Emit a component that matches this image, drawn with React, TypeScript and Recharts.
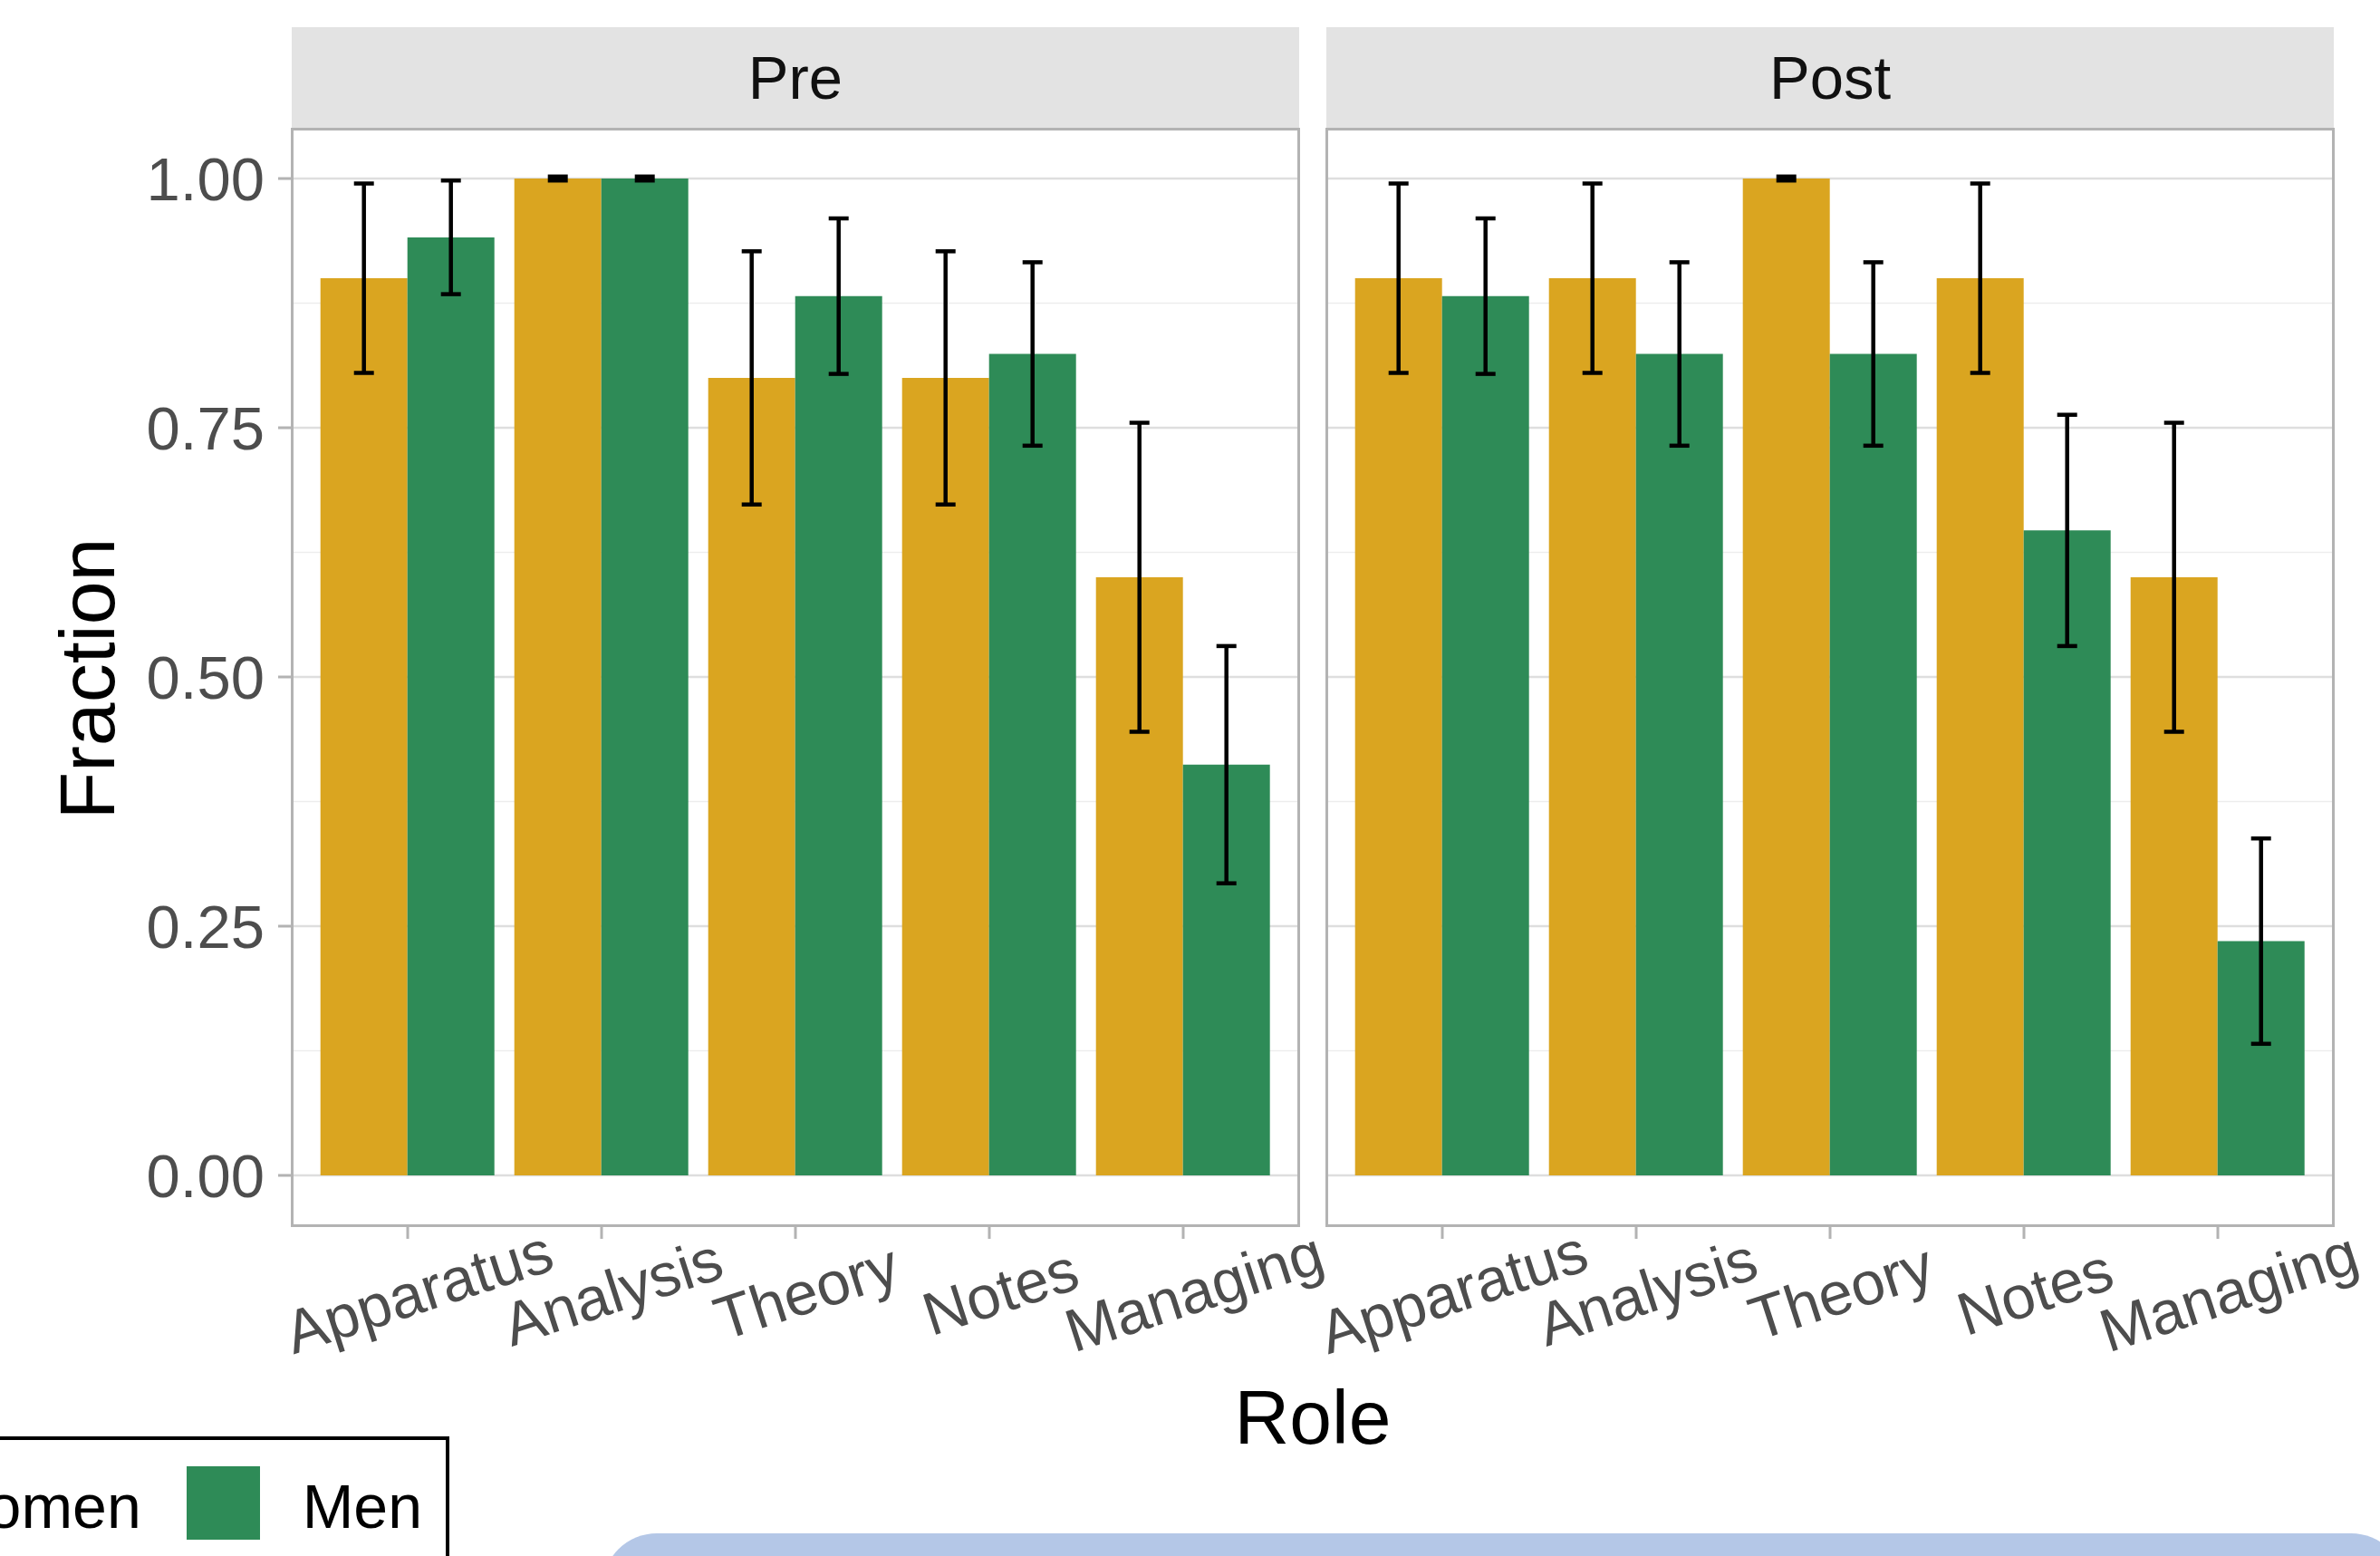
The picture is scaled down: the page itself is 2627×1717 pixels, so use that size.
import { BarChart, Bar, XAxis, YAxis, CartesianGrid, ErrorBar } from "recharts";

const roles = ["Apparatus", "Analysis", "Theory", "Notes", "Managing"];

const preWomen = [0.9, 1.0, 0.8, 0.8, 0.6];
const preWomenErr = [0.095, 0.002, 0.127, 0.127, 0.155];
const preMen = [0.941, 1.0, 0.882, 0.824, 0.412];
const preMenErr = [0.057, 0.002, 0.078, 0.092, 0.119];

const postWomen = [0.9, 0.9, 1.0, 0.9, 0.6];
const postWomenErr = [0.095, 0.095, 0.002, 0.095, 0.155];
const postMen = [0.882, 0.824, 0.824, 0.647, 0.235];
const postMenErr = [0.078, 0.092, 0.092, 0.116, 0.103];

const yTicks = [0, 0.25, 0.5, 0.75, 1];
const minorBreaks = [0.125, 0.375, 0.625, 0.875];

const WOMEN = "#DAA520";
const MEN = "#2E8B57";
const FONT = '"Liberation Sans", Arial, sans-serif';

const preData = roles.map((role, i) => ({
  role,
  women: preWomen[i],
  womenErr: preWomenErr[i],
  men: preMen[i],
  menErr: preMenErr[i],
}));

const postData = roles.map((role, i) => ({
  role,
  women: postWomen[i],
  womenErr: postWomenErr[i],
  men: postMen[i],
  menErr: postMenErr[i],
}));

function RoleTick({ x, y, payload }: any) {
  return (
    <text
      transform={`translate(${x + 12},${y + 56}) rotate(-18)`}
      textAnchor="middle"
      dominantBaseline="central"
      fill="#4d4d4d"
      fontSize={67}
      fontFamily={FONT}
    >
      {payload.value}
    </text>
  );
}

type FacetPanelProps = {
  data: typeof preData;
  label: string;
  left: number;
  showYAxis: boolean;
};

// plot area of each facet is 1112 x 1210, top at y=142
function FacetPanel({ data, label, left, showYAxis }: FacetPanelProps) {
  const marginLeft = showYAxis ? 0 : 6;
  const yAxisWidth = showYAxis ? 322 : 0;
  const plotLeft = left + marginLeft + yAxisWidth;

  return (
    <>
      <div
        style={{
          position: "absolute",
          left: plotLeft,
          top: 30,
          width: 1112,
          height: 112,
          background: "#e3e3e3",
          color: "#111",
          fontFamily: FONT,
          fontSize: 67,
          lineHeight: "112px",
          textAlign: "center",
        }}
      >
        {label}
      </div>
      <div style={{ position: "absolute", left, top: 0 }}>
        <BarChart
          width={marginLeft + yAxisWidth + 1112 + 6}
          height={1502}
          data={data}
          margin={{ top: 142, right: 6, bottom: 0, left: marginLeft }}
          barGap={0}
          barCategoryGap="5%"
        >
          <CartesianGrid
            vertical={false}
            horizontalValues={minorBreaks}
            stroke="#ededed"
            strokeWidth={1.5}
          />
          <CartesianGrid
            vertical={false}
            horizontalValues={yTicks}
            stroke="#dedede"
            strokeWidth={2.5}
          />
          <XAxis
            dataKey="role"
            interval={0}
            padding={{ left: 21, right: 21 }}
            height={150}
            axisLine={false}
            tickSize={15}
            tickLine={{ stroke: "#b3b3b3", strokeWidth: 3 }}
            tick={<RoleTick />}
          />
          <YAxis
            type="number"
            domain={[-0.05, 1.05]}
            allowDataOverflow
            ticks={yTicks}
            hide={!showYAxis}
            width={yAxisWidth}
            axisLine={false}
            tickSize={15}
            tickMargin={15}
            tickLine={{ stroke: "#b3b3b3", strokeWidth: 3 }}
            tickFormatter={(v: number) => v.toFixed(2)}
            tick={{ fill: "#4d4d4d", fontSize: 67, fontFamily: FONT }}
          />
          <Bar dataKey="women" fill={WOMEN} isAnimationActive={false}>
            <ErrorBar
              dataKey="womenErr"
              width={11}
              strokeWidth={4.5}
              stroke="#000"
              isAnimationActive={false}
            />
          </Bar>
          <Bar dataKey="men" fill={MEN} isAnimationActive={false}>
            <ErrorBar
              dataKey="menErr"
              width={11}
              strokeWidth={4.5}
              stroke="#000"
              isAnimationActive={false}
            />
          </Bar>
        </BarChart>
      </div>
      <div
        style={{
          position: "absolute",
          left: plotLeft - 1,
          top: 141,
          width: 1114,
          height: 1213,
          border: "3px solid #b3b3b3",
          boxSizing: "border-box",
          pointerEvents: "none",
        }}
      />
    </>
  );
}

export default function App() {
  const legendItems = [
    { name: "Women", color: WOMEN },
    { name: "Men", color: MEN },
  ];

  return (
    <div
      style={{
        position: "absolute",
        left: 0,
        top: 0,
        width: 2627,
        height: 1717,
        overflow: "hidden",
        background: "#fff",
      }}
    >
      <style>{`.recharts-surface { overflow: visible; }`}</style>
      <FacetPanel data={preData} label="Pre" left={0} showYAxis={true} />
      <FacetPanel data={postData} label="Post" left={1458} showYAxis={false} />

      <div
        style={{
          position: "absolute",
          left: 96,
          top: 749,
          transform: "translate(-50%, -50%) rotate(-90deg)",
          fontFamily: FONT,
          fontSize: 86,
          color: "#000",
          whiteSpace: "nowrap",
        }}
      >
        Fraction
      </div>

      <div
        style={{
          position: "absolute",
          left: 1449,
          top: 1514,
          transform: "translateX(-50%)",
          fontFamily: FONT,
          fontSize: 84,
          lineHeight: "100px",
          color: "#000",
        }}
      >
        Role
      </div>

      {/* legend box, cut off by the left page edge */}
      <div
        style={{
          position: "absolute",
          right: 2627 - 496,
          top: 1585,
          height: 300,
          border: "4px solid #000",
          boxSizing: "border-box",
          display: "flex",
          alignItems: "flex-start",
          padding: "29px 26px 0 30px",
          fontFamily: FONT,
          fontSize: 68,
          color: "#000",
          whiteSpace: "nowrap",
        }}
      >
        {legendItems.map((item, i) => (
          <div
            key={item.name}
            style={{
              display: "flex",
              alignItems: "center",
              marginRight: i < legendItems.length - 1 ? 50 : 0,
            }}
          >
            <div
              style={{
                width: 81,
                height: 81,
                background: item.color,
                marginRight: 47,
              }}
            />
            <span style={{ lineHeight: "81px", position: "relative", top: 4 }}>
              {item.name}
            </span>
          </div>
        ))}
      </div>

      <div
        style={{
          position: "absolute",
          left: 665,
          top: 1692,
          width: 1990,
          height: 200,
          borderRadius: 60,
          background: "#b4c7e7",
        }}
      />
    </div>
  );
}
